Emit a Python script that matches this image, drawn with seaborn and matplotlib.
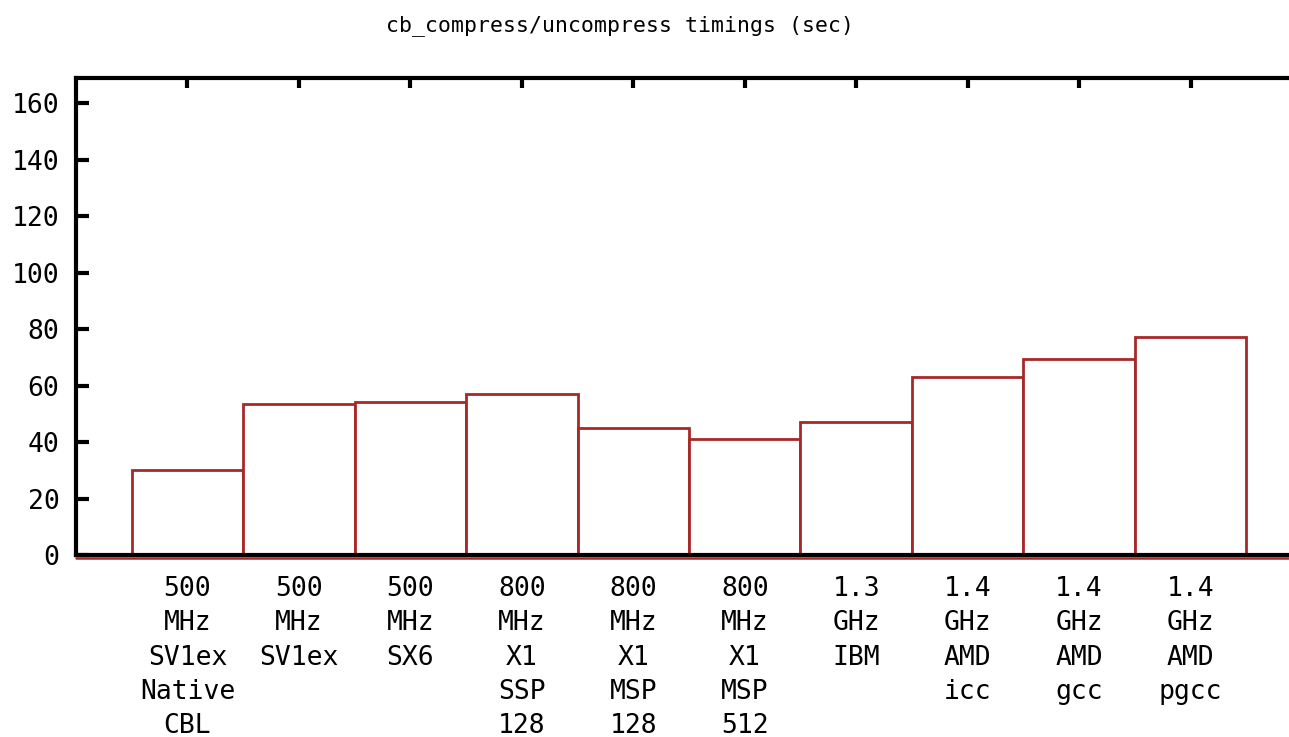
import matplotlib
matplotlib.use("Agg")
import matplotlib.pyplot as plt
import matplotlib.transforms as mtransforms
import seaborn as sns
import pandas as pd

# Machine / configuration labels (one line per row of the tick label)
machines = [
    ["500", "MHz", "SV1ex", "Native", "CBL"],
    ["500", "MHz", "SV1ex"],
    ["500", "MHz", "SX6"],
    ["800", "MHz", "X1", "SSP", "128"],
    ["800", "MHz", "X1", "MSP", "128"],
    ["800", "MHz", "X1", "MSP", "512"],
    ["1.3", "GHz", "IBM"],
    ["1.4", "GHz", "AMD", "icc"],
    ["1.4", "GHz", "AMD", "gcc"],
    ["1.4", "GHz", "AMD", "pgcc"],
]
# Timings in seconds
timings = [30.1, 53.5, 54.3, 57.1, 44.9, 41.2, 47.0, 62.9, 69.4, 77.1]
y_ticks = [0, 20, 40, 60, 80, 100, 120, 140, 160]

labels = ["\n".join(m) for m in machines]
df = pd.DataFrame({"machine": labels, "seconds": timings})

sns.set_style("white")
plt.rcParams["font.family"] = ["DejaVu Sans Mono"]

bar_red = "#a82828"

fig = plt.figure(figsize=(12.89, 7.37), dpi=100)
ax = fig.add_axes([76 / 1289, 1 - 555 / 737, (1302 - 76) / 1289, (555 - 78) / 737])

sns.barplot(data=df, x="machine", y="seconds", ax=ax, width=1.0,
            color="white", edgecolor=bar_red, linewidth=2.0, saturation=1)

ax.set_xlim(-1, 10)
ax.set_ylim(0, 169)
ax.set_yticks(y_ticks)
ax.set_yticklabels([str(v) for v in y_ticks])
ax.set_xlabel("")
ax.set_ylabel("")

# red zero line sitting just under the black bottom border
offset = mtransforms.ScaledTranslation(0, -2.5 / 100, fig.dpi_scale_trans)
ax.plot([0, 1], [0, 0], color=bar_red, lw=1.8, zorder=1, clip_on=False,
        transform=ax.get_yaxis_transform() + offset)

for side in ["left", "top", "bottom", "right"]:
    ax.spines[side].set_visible(True)
    ax.spines[side].set_color("black")
    ax.spines[side].set_linewidth(3.0)
    ax.spines[side].set_zorder(3)

ax.tick_params(axis="x", direction="in", top=True, bottom=True, length=7,
               width=3, color="black", pad=15, labelsize=19, labelcolor="black")
ax.tick_params(axis="y", direction="in", left=True, right=False, length=9,
               width=3, color="black", pad=12, labelsize=19, labelcolor="black")
for t in ax.get_xticklabels():
    t.set_linespacing(1.42)
    t.set_ha("center")

fig.text(620 / 1289, 1 - 26 / 737, "cb_compress/uncompress timings (sec)",
         ha="center", va="center", fontsize=15.5, color="black")

fig.savefig("out.png", dpi=100, facecolor="white")
